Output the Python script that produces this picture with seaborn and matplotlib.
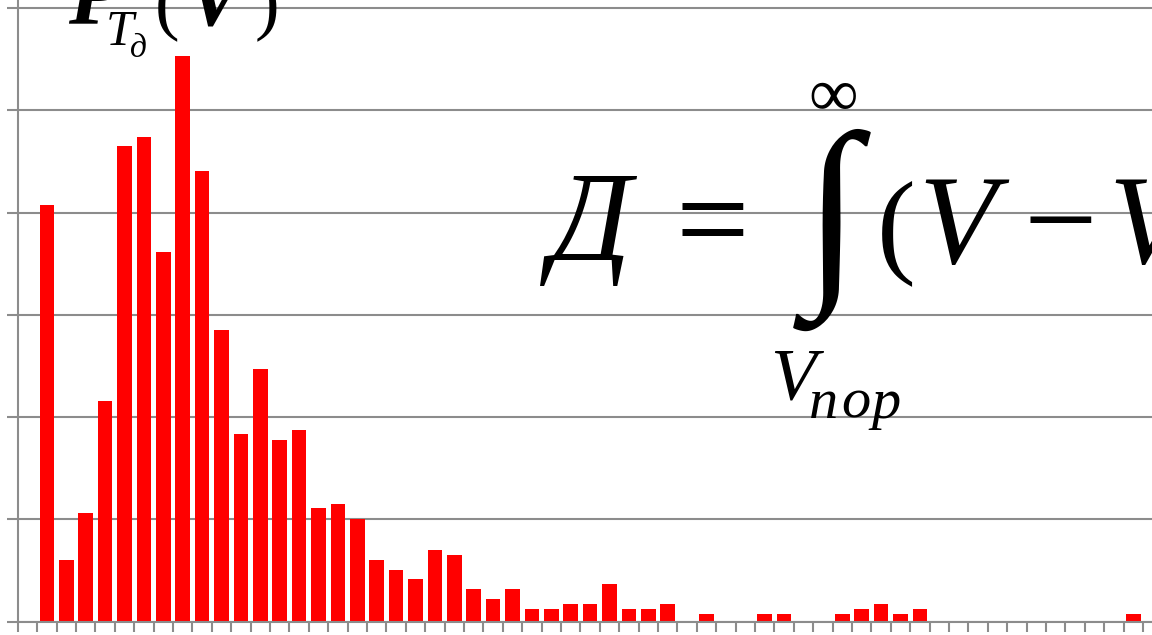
import matplotlib
matplotlib.use("Agg")
import matplotlib.pyplot as plt
import seaborn as sns
import pandas as pd

# Histogram of speed values, one bar per bin (bin 0 is empty)
bins = list(range(58))
heights = [
    0.0, 4.07, 0.60, 1.06, 2.16, 4.65, 4.74, 3.61, 5.53, 4.41,
    2.85, 1.83, 2.47, 1.78, 1.87, 1.11, 1.15, 1.00, 0.60, 0.51,
    0.42, 0.70, 0.65, 0.32, 0.22, 0.32, 0.12, 0.12, 0.17, 0.17,
    0.37, 0.12, 0.12, 0.17, 0.0, 0.075, 0.0, 0.0, 0.075, 0.075,
    0.0, 0.0, 0.075, 0.12, 0.17, 0.075, 0.12, 0.0, 0.0, 0.0,
    0.0, 0.0, 0.0, 0.0, 0.0, 0.0, 0.0, 0.075,
]
grid_levels = [0, 1, 2, 3, 4, 5, 6]

W, H = 1152, 635
GRAY = "#8c8c8c"
SERIF = ["Liberation Serif", "DejaVu Serif"]

sns.set_style("white")
plt.rcParams["font.family"] = SERIF

fig = plt.figure(figsize=(W / 100, H / 100), dpi=100)
# axes: left edge at x=17.8 px, baseline at y=621.7 px from top, running off the right/top edge
ax = fig.add_axes([17.8 / W, (H - 621.7) / H, (W - 17.8) / W, 621.7 / H])

df = pd.DataFrame({"bin": bins, "value": heights})
sns.barplot(data=df, x="bin", y="value", color="#ff0000", saturation=1,
            width=0.75, edgecolor="none", ax=ax, zorder=3)

ax.set_xlim(-0.5, (W - 17.8) / 19.4 - 0.5)
ax.set_ylim(0, 621.7 / 102.3)

# horizontal grid
ax.set_yticks(grid_levels)
ax.yaxis.grid(True, color=GRAY, linewidth=1.5)
ax.xaxis.grid(False)
ax.set_axisbelow(True)

# tick marks on bin boundaries
ax.set_xticks([b - 0.5 for b in bins] + [bins[-1] + 0.5])
ax.set_xticklabels([])
ax.set_yticklabels([])
ax.tick_params(axis="x", which="major", bottom=True, direction="out",
               length=7.5, width=1.5, color=GRAY)
ax.tick_params(axis="y", which="major", left=True, direction="out",
               length=8, width=1.5, color=GRAY)
ax.set_xlabel("")
ax.set_ylabel("")

for side in ("top", "right"):
    ax.spines[side].set_visible(False)
for side in ("left", "bottom"):
    ax.spines[side].set_color(GRAY)
    ax.spines[side].set_linewidth(1.5)
    ax.spines[side].set_zorder(4)


def put(txt, x, y, size, style="normal", weight="normal", ha="left", va="baseline"):
    fig.text(x / W, 1 - y / H, txt, fontsize=size, fontstyle=style,
             fontweight=weight, ha=ha, va=va, family=SERIF, color="black",
             zorder=10)


# P_{T_д}(V) label at the top left
put("P", 68, 23, 62, "italic", "bold")
put("T", 106, 45, 36, "italic")
put("д", 130, 57, 24, "italic")
put("(", 155, 26, 53)
put("V", 186, 25, 62, "italic", "bold")
put(")", 255, 26, 53)

# Д = ∫_{V_пор}^{∞} (V − V
put("Д", 550, 260, 92, "italic")
put("=", 676, 263, 94)
put("∫", 832, 230, 148, ha="center", va="center")
put("∞", 833, 116, 50, ha="center")
put("(", 877, 261, 84)
put("V", 918, 263, 92, "italic")
put("−", 1024, 263, 94)
put("V", 1108, 263, 92, "italic")
put("V", 770, 400, 54, "italic")
put("п", 809, 418, 42, "italic")
put("о", 841, 418, 42, "italic")
put("р", 871, 418, 42, "italic")

fig.savefig("out.png", dpi=100)
